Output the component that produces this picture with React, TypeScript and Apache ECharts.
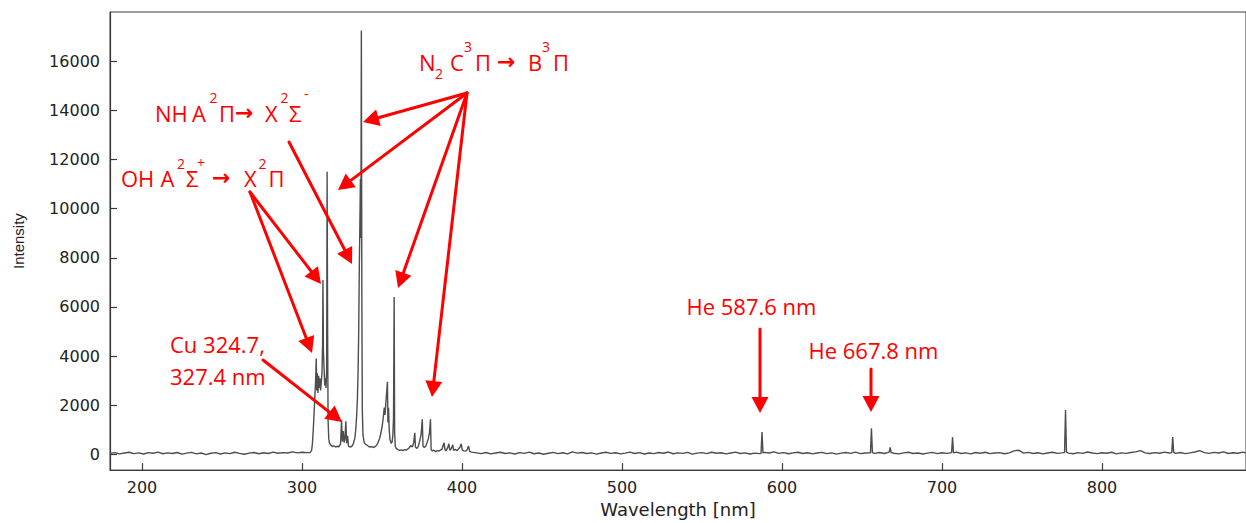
import React, { useEffect, useRef } from "react";
import * as echarts from "echarts";

type P = [number, number];

// ---- spectrum data: [wavelength nm, intensity] ----
const baselineLeft: P[] = [
  [180, 40], [183, 70], [186, 20], [189, 55], [192, 85], [195, 30], [198, 60], [201, 15], [204, 70], [207, 45],
  [210, 90], [213, 25], [216, 60], [219, 35], [222, 75], [225, 10], [228, 50], [231, 80], [234, 20], [237, 55],
  [240, -10], [243, 45], [246, 70], [249, 15], [252, 60], [255, 30], [258, 85], [261, 40], [264, 5], [267, 50],
  [270, 75], [273, 25], [276, 65], [279, 35], [282, 90], [285, 45], [288, 70], [291, 55], [294, 100], [297, 60],
  [300, 85], [303, 70],
];

const ohBand: P[] = [
  [305, 70], [306, 160], [306.5, 420], [307, 950], [307.5, 1600], [308, 2300], [308.5, 3000], [308.9, 3900],
  [309.2, 2600], [309.6, 3300], [310, 2500], [310.4, 3200], [310.8, 2700], [311.2, 3100], [311.6, 2600],
  [312, 2900], [312.5, 3300], [312.9, 4600], [313.1, 7100], [313.4, 4200], [313.8, 3500], [314.2, 2800],
  [314.6, 3100], [315, 2700], [315.4, 3400], [315.7, 11500], [316, 5200], [316.3, 1400], [316.7, 650],
  [317.2, 450], [318, 380], [319, 320], [320, 350], [321, 300], [322, 330], [323, 310], [324.1, 420],
];

const cuLines: P[] = [
  [324.7, 1400], [325.2, 520], [325.8, 950], [326.3, 480], [326.8, 600], [327.4, 1350], [327.9, 450],
  [328.5, 750], [329.1, 330], [330, 300], [331, 320], [332, 420],
];

const n2Band337: P[] = [
  [333, 650], [333.6, 1000], [334.1, 1500], [334.6, 2200], [335, 3200], [335.4, 4800], [335.8, 7500],
  [336.2, 9500], [336.5, 11200], [336.8, 8800], [337.1, 17250], [337.4, 6500], [337.7, 1800], [338.1, 800],
  [338.8, 500], [339.6, 420], [340.5, 380], [341.5, 330], [342.5, 300], [343.5, 320], [344.5, 280],
  [345.5, 310], [346.5, 360], [347.3, 450], [348, 560], [348.7, 700], [349.4, 900], [350.1, 1150],
  [350.8, 1500], [351.4, 1900], [351.9, 1600], [352.4, 2100], [352.9, 2500], [353.4, 2950], [353.7, 1300],
  [354.1, 1900], [354.5, 1000], [355, 600], [355.7, 450], [356.3, 500], [356.8, 800], [357.2, 1500],
  [357.6, 6400], [357.9, 900], [358.3, 320], [359, 230],
];

const n2Band380: P[] = [
  [360, 190], [361, 160], [362, 180], [363, 150], [364, 190], [365, 170], [366, 210], [367, 270], [368, 360],
  [369, 300], [369.8, 480], [370.5, 880], [370.9, 300], [371.8, 240], [372.7, 330], [373.6, 560], [374.4, 800],
  [375.2, 1430], [375.6, 350], [376.4, 280], [377.3, 330], [378.2, 480], [379, 650], [379.7, 900], [380.3, 1430],
  [380.7, 200], [381.5, 140], [382.5, 170], [383.5, 110], [384.5, 150], [385.5, 130], [386.5, 170], [387.5, 210],
  [388.2, 360], [388.8, 470], [389.3, 200], [390, 150], [391, 260], [391.8, 430], [392.4, 170], [393.3, 230],
  [394.2, 390], [394.8, 160], [395.8, 210], [396.8, 150], [397.8, 220], [398.8, 300], [399.5, 430], [400.2, 170],
  [401.2, 140], [402.2, 130], [403.2, 190], [404.1, 340], [404.8, 120], [406, 90],
];

const baselineRight: P[] = [
  [409, 60], [412, 30], [415, 75], [418, 20], [421, 55], [424, 85], [427, 35], [430, 60], [433, 15], [436, 70],
  [439, 40], [442, 90], [445, 25], [448, 55], [451, 5], [454, 45], [457, 80], [460, 30], [463, 65], [466, 20],
  [469, 100], [472, 50], [475, 75], [478, 35], [481, 60], [484, 10], [487, 55], [490, 85], [493, 40], [496, 65],
  [499, 20], [502, 50], [505, 90], [508, 35], [511, 70], [514, 15], [517, 55], [520, 30], [523, 75], [526, 45],
  [529, 95], [532, 25], [535, 60], [538, 40], [541, 80], [544, 10], [547, 50], [550, 70], [553, 30], [556, 85],
  [559, 45], [562, 65], [565, 20], [568, 55], [571, 90], [574, 35], [577, 60], [580, 15], [583, 50], [586, 30],
  [586.9, 40], [587.5, 910], [588.1, 60], [589, 80], [592, 55], [595, 100], [598, 40], [601, 70], [604, 25],
  [607, 60], [610, 85], [613, 35], [616, 65], [619, 20], [622, 55], [625, 80], [628, 30], [631, 60], [634, 10],
  [637, 50], [640, 75], [643, 40], [646, 90], [649, 30], [652, 55], [655.3, 60], [655.9, 1060], [656.5, 70],
  [658, 40], [661, 75], [664, 35], [667, 90], [667.6, 280], [668.2, 70], [670, 45], [673, 20], [676, 60],
  [679, 85], [682, 35], [685, 55], [688, 15], [691, 50], [694, 80], [697, 30], [700, 65], [703, 40], [706, 70],
  [706.6, 700], [707.2, 60], [709, 90], [712, 35], [715, 60], [718, 20], [721, 75], [724, 45], [727, 85],
  [730, 30], [733, 55], [736, 70], [739, 25], [742, 60], [745, 140], [748, 170], [751, 50], [754, 80], [757, 35],
  [760, 65], [763, 20], [766, 55], [769, 85], [772, 40], [775, 60], [776.6, 80], [777.2, 1800], [777.8, 90],
  [779, 50], [782, 25], [785, 70], [788, 40], [791, 95], [794, 55], [797, 30], [800, 65], [803, 45], [806, 85],
  [809, 20], [812, 60], [815, 40], [818, 75], [821, 100], [824, 150], [827, 60], [830, 35], [833, 70], [836, 45],
  [839, 90], [842, 55], [843.6, 70], [844.2, 700], [844.8, 80], [846, 40], [849, 75], [852, 30], [855, 60],
  [858, 95], [861, 150], [864, 70], [867, 40], [870, 80], [873, 55], [876, 100], [879, 35], [882, 65], [885, 45],
  [888, 90], [890, 50],
];

const xTickValues = [200, 300, 400, 500, 600, 700, 800];
const yTickValues = [0, 2000, 4000, 6000, 8000, 10000, 12000, 14000, 16000];

const RED = "#ff0000";
const ANN_FONT = "'Open Sans', 'DejaVu Sans', sans-serif";

function txt(text: string, x: number, y: number, size = 22): any {
  return {
    type: "text",
    x,
    y,
    z: 100,
    silent: true,
    style: {
      text,
      fill: RED,
      font: `${size}px ${ANN_FONT}`,
      align: "left",
      verticalAlign: "middle",
    },
  };
}

function arrowGlyph(x: number, y: number): any {
  return {
    type: "text",
    x,
    y,
    z: 100,
    silent: true,
    style: {
      text: "→",
      fill: RED,
      font: "bold 22px 'DejaVu Sans', sans-serif",
      align: "left",
      verticalAlign: "middle",
    },
  };
}

function arrow(x1: number, y1: number, x2: number, y2: number): any[] {
  const dx = x2 - x1;
  const dy = y2 - y1;
  const len = Math.sqrt(dx * dx + dy * dy);
  const ux = dx / len;
  const uy = dy / len;
  const headLen = 16;
  const halfW = 8.5;
  const bx = x2 - ux * headLen;
  const by = y2 - uy * headLen;
  const nx = -uy;
  const ny = ux;
  return [
    {
      type: "line",
      z: 100,
      silent: true,
      shape: { x1, y1, x2: bx + ux * 2, y2: by + uy * 2 },
      style: { stroke: RED, lineWidth: 3, lineCap: "round" },
    },
    {
      type: "polygon",
      z: 100,
      silent: true,
      shape: {
        points: [
          [x2, y2],
          [bx + nx * halfW, by + ny * halfW],
          [bx - nx * halfW, by - ny * halfW],
        ],
      },
      style: { fill: RED },
    },
  ];
}

export default function App() {
  const ref = useRef<HTMLDivElement>(null);

  useEffect(() => {
    document.body.style.margin = "0";
    if (!ref.current) return;
    const chart = echarts.init(ref.current, undefined, { renderer: "svg" });

    const data = [
      ...baselineLeft,
      ...ohBand,
      ...cuLines,
      ...n2Band337,
      ...n2Band380,
      ...baselineRight,
    ];

    const axisColor = "#3a3a3a";
    const labelFont = "DejaVu Sans";

    const graphics: any[] = [
      // N2 C3Π → B3Π
      txt("N", 419, 62),
      txt("2", 435, 73, 14),
      txt("C", 450, 62),
      txt("3", 464, 46, 14),
      txt("Π", 475, 62),
      arrowGlyph(497, 61),
      txt("B", 528, 62),
      txt("3", 542, 46, 14),
      txt("Π", 553, 62),
      // NH A2Π → X2Σ-
      txt("NH", 155, 112.5),
      txt("A", 192, 112.5),
      txt("2", 209.5, 97, 14),
      txt("Π", 219, 112.5),
      arrowGlyph(235, 112),
      txt("X", 265, 112.5),
      txt("2", 280.5, 97, 14),
      txt("Σ", 289, 112.5),
      txt("-", 304, 93, 14),
      // OH A2Σ+ → X2Π
      txt("OH", 121, 178),
      txt("A", 160.5, 178),
      txt("2", 177, 163, 14),
      txt("Σ", 186, 178),
      txt("+", 197, 162, 14),
      arrowGlyph(212, 177.5),
      txt("X", 244, 178),
      txt("2", 258.5, 163, 14),
      txt("Π", 268.5, 178),
      // Cu
      txt("Cu 324.7,", 170, 343.5),
      txt("327.4 nm", 170, 375.5),
      // He
      txt("He 587.6 nm", 686.5, 306),
      txt("He 667.8 nm", 808.5, 349.5),
      // arrows
      ...arrow(467, 93, 363, 122),
      ...arrow(467, 93, 338, 190),
      ...arrow(467, 93, 398, 288),
      ...arrow(467, 93, 432, 397),
      ...arrow(289, 142, 352, 264),
      ...arrow(250, 192, 321, 284),
      ...arrow(250, 192, 312, 353),
      ...arrow(263, 360, 342, 422),
      ...arrow(760, 329, 760, 413),
      ...arrow(871, 369, 871, 412),
    ];

    const option: any = {
      animation: false,
      backgroundColor: "#ffffff",
      grid: {
        left: 110,
        right: -3,
        top: 12,
        bottom: 43,
        show: true,
        borderColor: axisColor,
        borderWidth: 1,
        backgroundColor: "transparent",
      },
      xAxis: {
        type: "value",
        min: 180,
        max: 890,
        name: "Wavelength [nm]",
        nameLocation: "middle",
        nameGap: 20,
        nameTextStyle: { color: "#222", fontSize: 18, fontFamily: labelFont },
        axisLine: { show: true, onZero: false, lineStyle: { color: axisColor, width: 1.2 } },
        axisTick: {
          show: true,
          inside: true,
          length: 7,
          customValues: xTickValues,
          lineStyle: { color: axisColor, width: 1.2 },
        },
        axisLabel: {
          show: true,
          customValues: xTickValues,
          formatter: (v: number) => String(v),
          margin: 9,
          color: "#222",
          fontSize: 16,
          fontFamily: labelFont,
        },
        splitLine: { show: false },
      },
      yAxis: {
        type: "value",
        min: -640,
        max: 18000,
        name: "Intensity",
        nameLocation: "middle",
        nameGap: 84,
        nameTextStyle: {
          color: "#222",
          fontSize: 15,
          fontFamily: "Liberation Sans",
        },
        axisLine: { show: true, onZero: false, lineStyle: { color: axisColor, width: 1.2 } },
        axisTick: {
          show: true,
          inside: true,
          length: 7,
          customValues: yTickValues,
          lineStyle: { color: axisColor, width: 1.2 },
        },
        axisLabel: {
          show: true,
          customValues: yTickValues,
          formatter: (v: number) => String(v),
          margin: 10,
          color: "#222",
          fontSize: 16,
          fontFamily: labelFont,
        },
        splitLine: { show: false },
      },
      series: [
        {
          type: "line",
          data,
          showSymbol: false,
          symbol: "none",
          silent: true,
          lineStyle: { color: "#4d4d4d", width: 1.4 },
          z: 2,
        },
      ],
      graphic: graphics,
    };

    chart.setOption(option);
    return () => {
      chart.dispose();
    };
  }, []);

  return <div ref={ref} style={{ width: 1246, height: 523 }} />;
}
